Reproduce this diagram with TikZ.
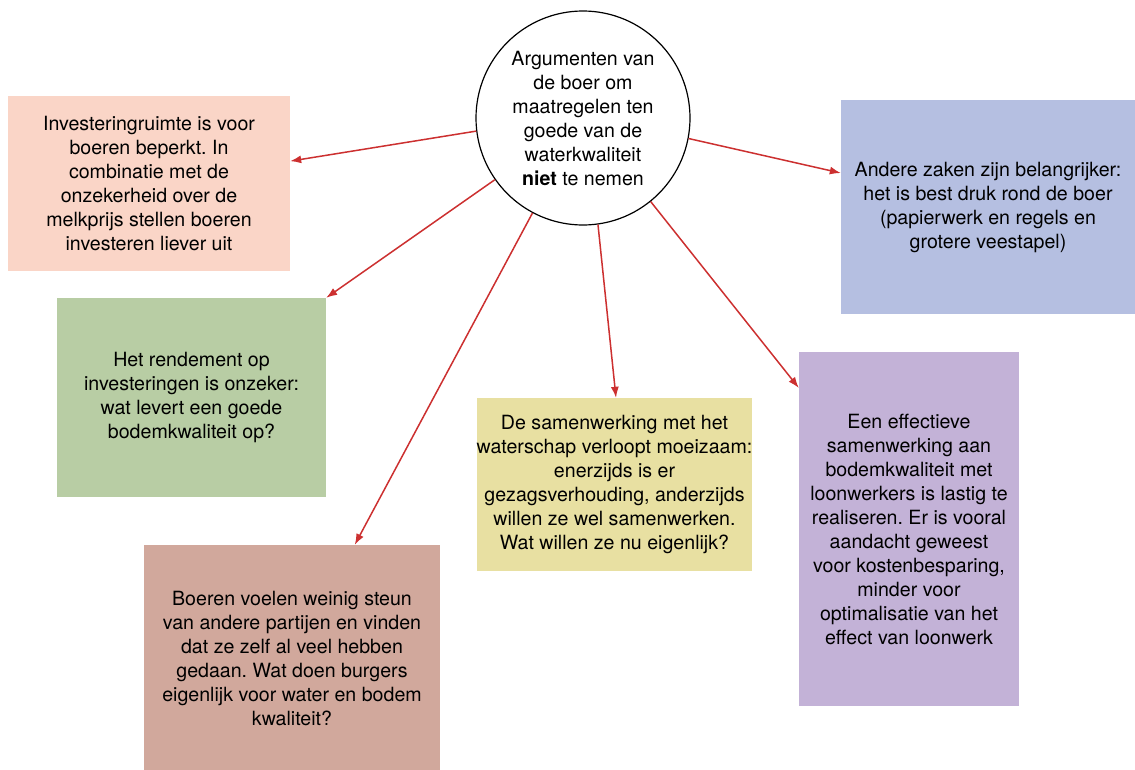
\documentclass[tikz,border=0pt]{standalone}
\usepackage{fontspec}
\setmainfont{TeX Gyre Heros}
\usetikzlibrary{arrows.meta,positioning}
\definecolor{salmonbox}{RGB}{250,213,199}
\definecolor{greenbox}{RGB}{184,205,164}
\definecolor{brownbox}{RGB}{209,168,156}
\definecolor{yellowbox}{RGB}{232,224,162}
\definecolor{purplebox}{RGB}{195,178,215}
\definecolor{bluebox}{RGB}{181,191,225}
\definecolor{arrowred}{RGB}{204,48,48}
\frenchspacing

\begin{document}
\begin{tikzpicture}[
    x=1pt, y=-1pt,
    font=\fontsize{19.6}{24}\selectfont,
    >=latex,
    hub/.style={draw, circle, line width=1.2pt, align=center, minimum size=214pt, inner sep=0pt, fill=white},
    argbox/.style={align=center, inner sep=0pt},
    arrow/.style={draw=arrowred, line width=1.5pt, -{Latex[length=11pt,width=8pt]}}
]
\useasboundingbox (0,0) rectangle (1135,769);

% ===================== CENTRE =====================
\node[hub] (arg) at (583,118) {Argumenten van\\de boer om\\maatregelen ten\\goede van de\\waterkwaliteit\\\textbf{niet} te nemen};

% ===================== ARGUMENTS =====================
\node[argbox, fill=salmonbox, minimum width=282pt, minimum height=175pt] (ruimte) at (149,183.5)
{Investeringruimte is voor\\boeren beperkt. In\\combinatie met de\\onzekerheid over de\\melkprijs stellen boeren\\investeren liever uit};

\node[argbox, fill=greenbox, minimum width=269pt, minimum height=199pt] (rendement) at (191.5,397.5)
{Het rendement op\\investeringen is onzeker:\\wat levert een goede\\bodemkwaliteit op?};

\node[argbox, fill=brownbox, minimum width=296pt, minimum height=226pt] (steun) at (292,658)
{Boeren voelen weinig steun\\van andere partijen en vinden\\dat ze zelf al veel hebben\\gedaan. Wat doen burgers\\eigenlijk voor water en bodem\\kwaliteit?};

\node[argbox, fill=yellowbox, minimum width=275pt, minimum height=173pt] (waterschap) at (614.5,484.5)
{De samenwerking met het\\waterschap verloopt moeizaam:\\enerzijds is er\\gezagsverhouding, anderzijds\\willen ze wel samenwerken.\\Wat willen ze nu eigenlijk?};

\node[argbox, fill=purplebox, minimum width=220pt, minimum height=354pt] (loonwerk) at (909,529)
{Een effectieve\\samenwerking aan\\bodemkwaliteit met\\loonwerkers is lastig te\\realiseren. Er is vooral\\aandacht geweest\\voor kostenbesparing,\\minder voor\\optimalisatie van het\\effect van loonwerk};

\node[argbox, fill=bluebox, minimum width=294pt, minimum height=214pt] (zaken) at (988,207)
{Andere zaken zijn belangrijker:\\het is best druk rond de boer\\(papierwerk en regels en\\grotere veestapel)};

% ===================== ARROWS =====================
\draw[arrow] (arg.187) -- (ruimte.9);
\draw[arrow] (arg.215) -- (rendement.north east);
\draw[arrow] (arg.242) -- (steun.61);
\draw[arrow] (arg.-82.5) -- (waterschap.89);
\draw[arrow] (arg.-51) -- (loonwerk.128);
\draw[arrow] (arg.-11.6) -- (zaken.167);

\end{tikzpicture}
\end{document}
